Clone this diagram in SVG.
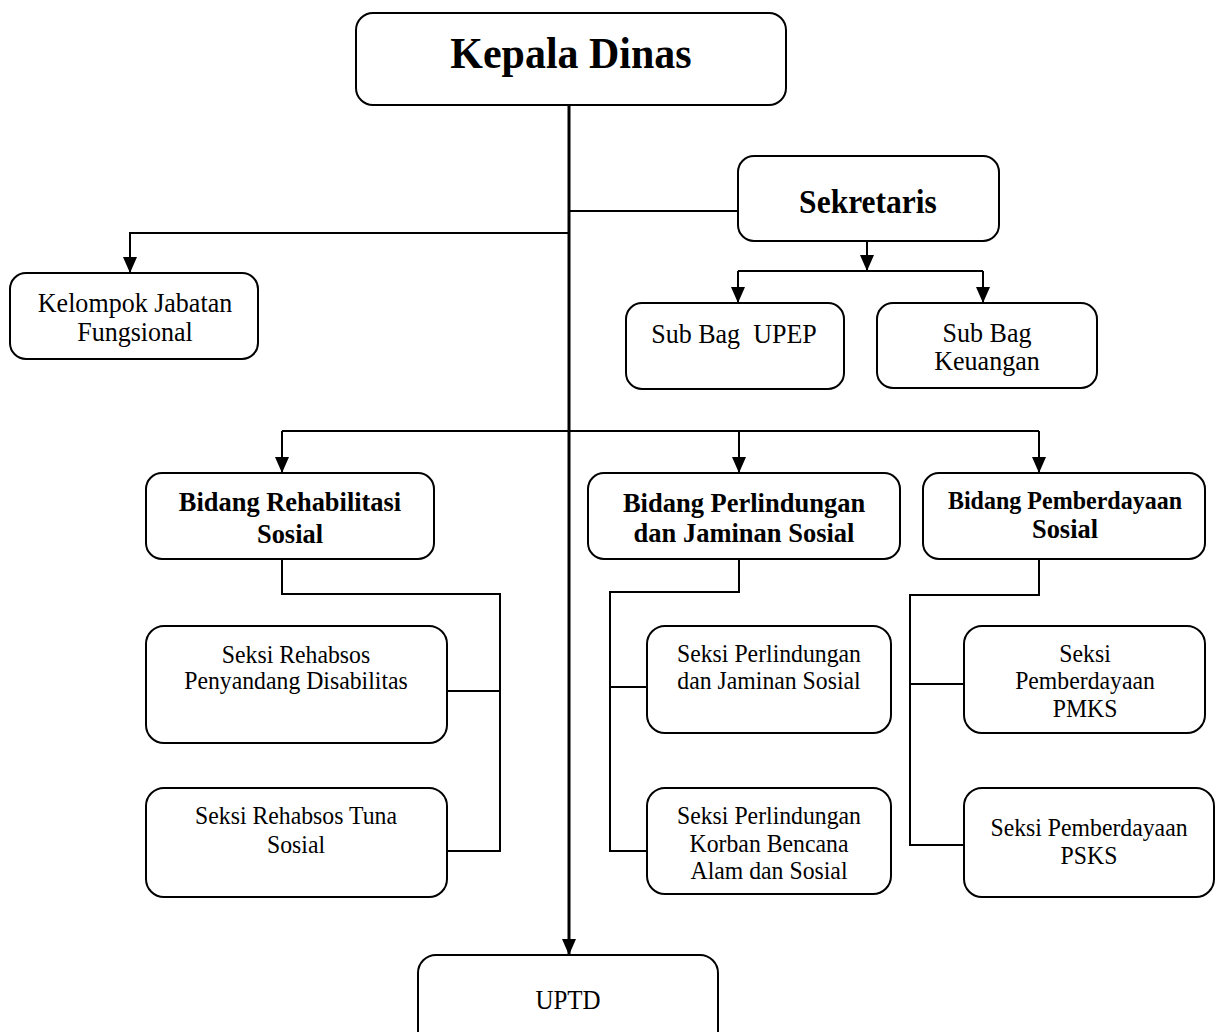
<svg xmlns="http://www.w3.org/2000/svg" width="1221" height="1032" viewBox="0 0 1221 1032">
<defs>
<marker id="arr" markerUnits="userSpaceOnUse" markerWidth="16" markerHeight="14" viewBox="0 0 16 14" refX="16" refY="7" orient="auto">
<path d="M0 0 L16 7 L0 14 z" fill="#000"/>
</marker>
<style>
.box{fill:#fff;stroke:#000;stroke-width:2}
.t{font-family:"Liberation Serif","Times New Roman",serif;fill:#000;text-anchor:middle}
.b{font-weight:bold}
.c{fill:none;stroke:#000;stroke-width:2}
.a{marker-end:url(#arr)}
</style>
</defs>
<rect width="1221" height="1032" fill="#fff"/>
<g id="connectors">
<path class="c a" d="M569 105 V955" style="stroke-width:3"/>
<path class="c" d="M569 211 H738"/>
<path class="c a" d="M569 233 H130 V273"/>
<path class="c a" d="M867 241 V271"/>
<path class="c" d="M738 271 H983"/>
<path class="c a" d="M738 271 V303"/>
<path class="c a" d="M983 271 V303"/>
<path class="c" d="M282 431 H1039"/>
<path class="c a" d="M282 431 V473"/>
<path class="c a" d="M739 431 V473"/>
<path class="c a" d="M1039 431 V473"/>
<path class="c" d="M282 559 V594 H500 V851 H447"/>
<path class="c" d="M500 691 H447"/>
<path class="c" d="M739 559 V592 H610 V851 H647"/>
<path class="c" d="M610 687 H647"/>
<path class="c" d="M1039 559 V595 H910 V845 H964"/>
<path class="c" d="M910 684 H964"/>
</g>
<g id="kepala-dinas">
<rect class="box" x="356" y="13" width="430" height="92" rx="17"/>
<text class="t b" transform="translate(571 68) scale(0.95 1)" font-size="44.2">Kepala Dinas</text>
</g>
<g id="sekretaris">
<rect class="box" x="738" y="156" width="261" height="85" rx="16"/>
<text class="t b" transform="translate(868 213) scale(0.95 1)" font-size="33.2">Sekretaris</text>
</g>
<g id="kelompok-jabatan-fungsional">
<rect class="box" x="10" y="273" width="248" height="86" rx="16"/>
<text class="t" transform="translate(135 312) scale(0.95 1)" font-size="27.4">Kelompok Jabatan</text>
<text class="t" transform="translate(135 341) scale(0.95 1)" font-size="27.4">Fungsional</text>
</g>
<g id="sub-bag-upep">
<rect class="box" x="626" y="303" width="218" height="86" rx="16"/>
<text class="t" transform="translate(734 343) scale(0.95 1)" font-size="27.4" style="white-space:pre">Sub Bag  UPEP</text>
</g>
<g id="sub-bag-keuangan">
<rect class="box" x="877" y="303" width="220" height="85" rx="16"/>
<text class="t" transform="translate(987 342) scale(0.95 1)" font-size="27.4">Sub Bag</text>
<text class="t" transform="translate(987 370) scale(0.95 1)" font-size="27.4">Keuangan</text>
</g>
<g id="bidang-rehabilitasi-sosial">
<rect class="box" x="146" y="473" width="288" height="86" rx="16"/>
<text class="t b" transform="translate(290 511) scale(0.95 1)" font-size="27.8">Bidang Rehabilitasi</text>
<text class="t b" transform="translate(290 543) scale(0.95 1)" font-size="27.8">Sosial</text>
</g>
<g id="bidang-perlindungan">
<rect class="box" x="588" y="473" width="312" height="86" rx="16"/>
<text class="t b" transform="translate(744 512) scale(0.95 1)" font-size="27.9">Bidang Perlindungan</text>
<text class="t b" transform="translate(744 542) scale(0.95 1)" font-size="27.9">dan Jaminan Sosial</text>
</g>
<g id="bidang-pemberdayaan">
<rect class="box" x="923" y="473" width="282" height="86" rx="16"/>
<text class="t b" transform="translate(1065 509) scale(0.95 1)" font-size="25.3">Bidang Pemberdayaan</text>
<text class="t b" transform="translate(1065 538) scale(0.95 1)" font-size="27.8">Sosial</text>
</g>
<g id="seksi-rehabsos-disabilitas">
<rect class="box" x="146" y="626" width="301" height="117" rx="18"/>
<text class="t" transform="translate(296 663) scale(0.95 1)" font-size="25">Seksi Rehabsos</text>
<text class="t" transform="translate(296 689) scale(0.95 1)" font-size="25">Penyandang Disabilitas</text>
</g>
<g id="seksi-rehabsos-tuna-sosial">
<rect class="box" x="146" y="788" width="301" height="109" rx="18"/>
<text class="t" transform="translate(296 824) scale(0.95 1)" font-size="25">Seksi Rehabsos Tuna</text>
<text class="t" transform="translate(296 853) scale(0.95 1)" font-size="25">Sosial</text>
</g>
<g id="seksi-perlindungan-jaminan">
<rect class="box" x="647" y="626" width="244" height="107" rx="18"/>
<text class="t" transform="translate(769 662) scale(0.95 1)" font-size="25">Seksi Perlindungan</text>
<text class="t" transform="translate(769 689) scale(0.95 1)" font-size="25">dan Jaminan Sosial</text>
</g>
<g id="seksi-perlindungan-korban">
<rect class="box" x="647" y="788" width="244" height="106" rx="18"/>
<text class="t" transform="translate(769 824) scale(0.95 1)" font-size="25">Seksi Perlindungan</text>
<text class="t" transform="translate(769 852) scale(0.95 1)" font-size="25">Korban Bencana</text>
<text class="t" transform="translate(769 879) scale(0.95 1)" font-size="25">Alam dan Sosial</text>
</g>
<g id="seksi-pemberdayaan-pmks">
<rect class="box" x="964" y="626" width="241" height="107" rx="18"/>
<text class="t" transform="translate(1085 662) scale(0.95 1)" font-size="25">Seksi</text>
<text class="t" transform="translate(1085 689) scale(0.95 1)" font-size="25">Pemberdayaan</text>
<text class="t" transform="translate(1085 717) scale(0.95 1)" font-size="25">PMKS</text>
</g>
<g id="seksi-pemberdayaan-psks">
<rect class="box" x="964" y="788" width="250" height="109" rx="18"/>
<text class="t" transform="translate(1089 836) scale(0.95 1)" font-size="25">Seksi Pemberdayaan</text>
<text class="t" transform="translate(1089 864) scale(0.95 1)" font-size="25">PSKS</text>
</g>
<g id="uptd">
<rect class="box" x="418" y="955" width="300" height="100" rx="18"/>
<text class="t" transform="translate(568 1009) scale(0.95 1)" font-size="26.3">UPTD</text>
</g>
</svg>
